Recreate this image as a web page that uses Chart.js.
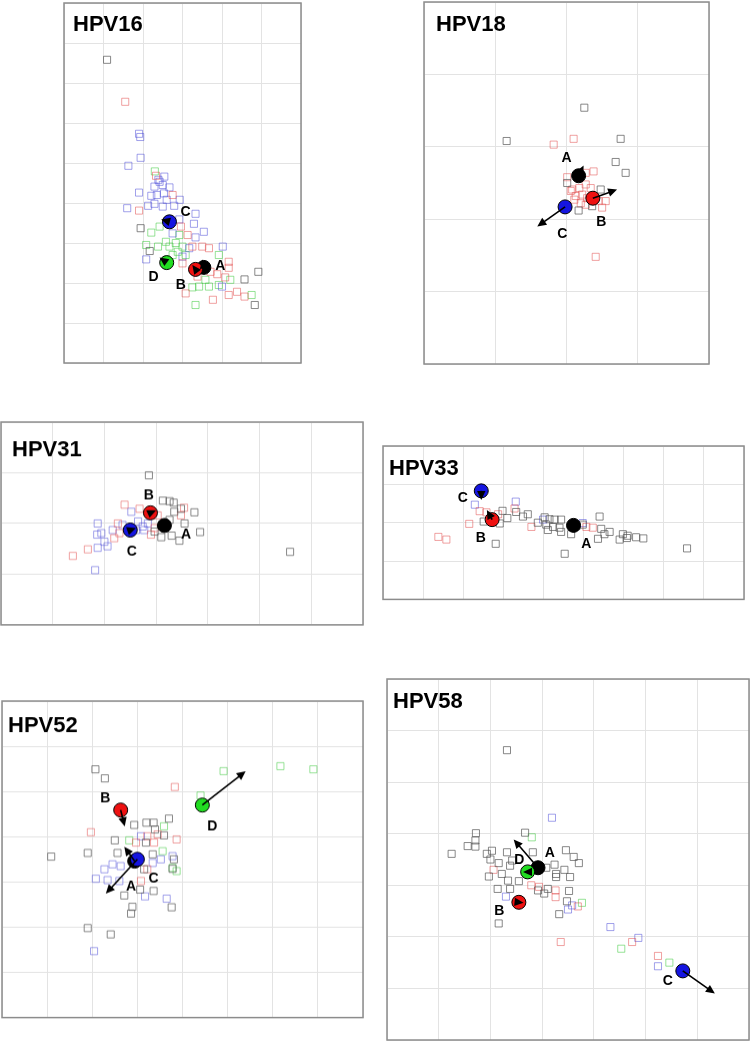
<!DOCTYPE html>
<html>
<head>
<meta charset="utf-8">
<script src="https://cdn.jsdelivr.net/npm/chart.js@4.4.1/dist/chart.umd.min.js"></script>
<style>
  body { margin: 0; background: #fff; width: 750px; height: 1042px; overflow: hidden; position: relative; }
  canvas { position: absolute; }
</style>
</head>
<body>
<script>
// lineage order: A (grey/black), B (red), C (blue), D (green)
const lineages = ['A', 'B', 'C', 'D'];

// ---- HPV16 ----
const hpv16A = [[1.09,7.58],[1.94,3.37],[2.17,2.8],[4.57,2.09],[4.92,2.28],[4.83,1.45]];
const hpv16B = [[1.55,6.53],[2.33,4.68],[2.75,4.2],[1.9,3.81],[3.13,3.2],[3.25,2.91],[3.5,2.91],[3.67,2.87],[3.0,2.49],[4.17,2.53],[4.17,2.38],[3.88,2.22],[4.08,2.14],[3.08,1.74],[3.77,1.58],[4.17,1.7],[4.38,1.78],[4.57,1.66],[3.71,2.28],[3.38,2.16],[2.96,3.41]];
const hpv16C = [[1.9,5.73],[1.93,5.65],[1.94,5.13],[1.63,4.93],[2.54,4.66],[2.39,4.58],[2.42,4.53],[2.29,4.41],[2.5,4.45],[2.67,4.39],[1.9,4.26],[2.21,4.18],[2.35,4.2],[2.53,4.24],[2.6,4.08],[2.93,4.08],[2.13,3.93],[2.29,3.98],[2.5,3.91],[2.79,3.93],[1.6,3.87],[3.33,3.73],[3.29,3.48],[2.92,3.59],[3.54,3.28],[2.75,3.24],[3.33,3.14],[2.08,2.59],[3.17,2.87],[4.02,2.91],[4.0,1.91],[3.0,2.66]];
const hpv16D = [[2.3,4.79],[2.42,3.41],[2.21,3.26],[2.92,3.2],[2.08,2.95],[2.38,2.91],[2.83,3.0],[3.0,2.91],[2.88,2.78],[3.08,2.7],[3.92,2.7],[2.75,2.7],[4.21,2.08],[3.92,1.95],[3.67,1.91],[3.42,1.91],[3.25,1.89],[3.33,1.45],[4.75,1.7],[3.58,2.08],[2.58,3.03],[2.67,2.91]];
const hpv16Centres = [[3.54,2.39],[3.33,2.34],[2.67,3.53],[2.6,2.51]];
const hpv16Arrows = [[3.5,2.59],[3.25,2.45],[2.46,3.59],[2.42,2.64]];
const hpv16Labels = [[3.96,2.43],[2.96,1.95],[3.08,3.78],[2.27,2.14]];

// ---- HPV18 ----
const hpv18A = [[2.25,3.54],[1.16,3.08],[2.76,3.11],[2.69,2.79],[2.83,2.64],[2.01,2.5],[2.48,2.41],[2.17,2.12],[2.36,2.18]];
const hpv18B = [[1.82,3.03],[2.1,3.11],[2.38,2.66],[2.27,2.64],[2.01,2.58],[2.08,2.41],[2.18,2.43],[2.27,2.48],[2.34,2.43],[2.13,2.32],[2.22,2.34],[2.29,2.29],[2.11,2.27],[2.2,2.22],[2.27,2.2],[2.5,2.16],[2.55,2.25],[2.45,2.25],[2.41,1.48],[2.06,2.39]];
const hpv18C = [];
const hpv18Centres = [[2.17,2.6],[2.37,2.29],[1.98,2.17]];
const hpv18Arrows = [[2.24,2.74],[2.71,2.41],[1.59,1.9]];
const hpv18Labels = [[2.0,2.85],[2.49,1.96],[1.94,1.79]];

// ---- HPV31 ----
const hpv31A = [[2.86,2.95],[3.13,2.45],[3.26,2.44],[3.34,2.41],[3.48,2.29],[3.74,2.22],[3.35,2.23],[3.55,2.0],[3.85,1.83],[3.1,1.73],[3.3,1.76],[3.45,1.66],[5.59,1.44],[3.26,2.07],[2.97,1.84]];
const hpv31B = [[2.39,2.37],[2.68,2.29],[3.54,2.31],[3.48,2.16],[3.03,2.16],[2.26,2.0],[2.19,1.71],[1.68,1.49],[1.39,1.36],[2.97,1.91],[2.9,1.78],[2.29,1.81]];
const hpv31C = [[2.52,2.23],[1.87,2.0],[2.16,1.87],[1.86,1.78],[1.94,1.81],[2.0,1.64],[1.87,1.52],[2.06,1.55],[1.82,1.08],[2.65,2.04],[2.74,1.94],[2.84,2.0],[2.35,1.97],[2.61,1.87],[2.77,1.87]];
const hpv31Centres = [[3.16,1.96],[2.89,2.21],[2.5,1.87]];
const hpv31Arrows = [[3.29,1.97],[3.0,2.26],[2.61,1.91]];
const hpv31Labels = [[3.58,1.78],[2.86,2.55],[2.53,1.45]];

// ---- HPV33 ----
const hpv33A = [[2.98,2.31],[3.1,2.12],[3.32,2.28],[3.49,2.16],[3.61,2.22],[2.51,2.03],[2.91,1.98],[2.81,1.45],[4.03,2.14],[4.15,2.09],[4.28,2.08],[4.44,2.08],[4.07,1.95],[4.24,1.89],[4.4,1.87],[4.11,1.81],[4.44,1.76],[4.69,1.7],[5.4,2.16],[5.44,1.84],[5.65,1.76],[5.52,1.7],[5.36,1.58],[5.98,1.7],[6.1,1.66],[5.9,1.56],[6.08,1.6],[6.31,1.62],[6.49,1.59],[4.53,1.19],[7.58,1.33],[3.86,2.0],[4.82,1.91],[4.98,1.95]];
const hpv33B = [[1.38,1.63],[1.58,1.56],[2.15,1.97],[2.41,2.3],[2.58,2.27],[2.87,2.22],[3.28,2.37],[3.7,1.89],[5.07,1.89],[5.23,1.87]];
const hpv33C = [[2.29,2.47],[3.31,2.55],[3.99,2.08],[4.98,1.99]];
const hpv33Centres = [[4.75,1.93],[2.72,2.08],[2.45,2.83]];
const hpv33Arrows = [null,[2.59,2.33],[2.45,2.59]];
const hpv33Labels = [[5.07,1.43],[2.44,1.6],[1.99,2.64]];

// ---- HPV52 ----
const hpv52A = [[2.07,5.49],[2.28,5.29],[1.09,3.56],[1.9,3.64],[3.7,4.4],[2.93,4.26],[3.2,4.31],[3.36,4.31],[3.59,4.03],[3.39,4.16],[2.5,3.92],[3.15,3.28],[3.36,2.8],[3.06,2.83],[2.71,2.7],[2.89,2.45],[2.86,2.3],[3.76,2.44],[1.9,1.98],[2.41,1.84],[3.34,3.61],[2.56,3.64],[3.19,3.87],[3.78,3.29],[3.81,3.5]];
const hpv52B = [[3.83,5.1],[1.97,4.1],[3.87,3.94],[3.22,4.01],[3.08,3.02],[3.22,3.28],[2.97,3.87],[3.37,3.87],[3.45,4.05]];
const hpv52C = [[2.27,3.28],[2.08,3.07],[2.34,3.04],[2.45,3.39],[2.6,3.02],[3.78,3.57],[3.52,3.5],[3.65,2.63],[3.17,2.68],[2.04,1.47],[3.34,3.42],[3.08,4.01],[2.63,3.35]];
const hpv52D = [[4.91,5.45],[6.17,5.56],[6.9,5.49],[4.4,4.91],[3.59,4.23],[2.82,3.92],[3.56,3.68],[3.78,3.31],[3.87,3.24]];
const hpv52Centres = [[2.94,3.46],[2.63,4.59],[3.0,3.5],[4.44,4.7]];
const hpv52Arrows = [[2.71,3.78],[2.72,4.23],[2.3,2.74],[5.4,5.45]];
const hpv52Labels = [[2.86,2.89],[2.29,4.85],[3.36,3.08],[4.66,4.23]];

// ---- HPV58 ----
const hpv58A = [[2.32,5.62],[1.72,4.01],[1.71,3.87],[1.56,3.76],[1.71,3.75],[1.25,3.61],[1.93,3.61],[2.03,3.67],[2.0,3.5],[2.32,3.64],[2.42,3.48],[2.38,3.38],[2.16,3.43],[1.97,3.17],[2.22,3.22],[2.34,3.09],[2.55,3.08],[2.14,2.93],[2.38,2.93],[2.67,4.02],[2.82,3.64],[3.46,3.68],[3.61,3.55],[3.71,3.43],[3.24,3.4],[3.43,3.3],[3.08,3.34],[3.27,3.16],[3.54,3.16],[2.92,2.9],[3.04,2.84],[3.11,2.93],[3.52,2.89],[3.48,2.69],[3.33,2.44],[2.16,2.26],[3.27,3.22]];
const hpv58B = [[2.06,3.3],[2.79,3.0],[2.94,2.97],[3.26,2.9],[3.26,2.77],[3.69,2.59],[3.36,1.9],[4.74,1.9],[5.24,1.63]];
const hpv58C = [[3.19,4.31],[2.3,2.78],[3.5,2.53],[3.58,2.61],[4.32,2.19],[4.86,1.98],[5.24,1.43]];
const hpv58D = [[2.8,3.93],[3.77,2.66],[4.53,1.77],[5.46,1.5]];
const hpv58Centres = [[2.92,3.34],[2.55,2.67],[5.72,1.34],[2.72,3.26]];
const hpv58Arrows = [[2.45,3.89],[2.64,2.66],[6.34,0.9],[2.63,3.26]];
const hpv58Labels = [[3.15,3.62],[2.17,2.5],[5.43,1.15],[2.56,3.48]];

// layout of the six panels (plot box in page px)
const panels = [
  { title: 'HPV16', box: [64, 3, 241, 360], cols: 6, rows: 9, titleAt: [9, 28],
    squares: [hpv16A, hpv16B, hpv16C, hpv16D], centres: hpv16Centres, arrows: hpv16Arrows, labels: hpv16Labels },
  { title: 'HPV18', box: [424, 2, 288, 362], cols: 4, rows: 5, titleAt: [12, 29],
    squares: [hpv18A, hpv18B, hpv18C], centres: hpv18Centres, arrows: hpv18Arrows, labels: hpv18Labels },
  { title: 'HPV31', box: [1, 422, 362, 207], cols: 7, rows: 4, titleAt: [11, 34],
    squares: [hpv31A, hpv31B, hpv31C], centres: hpv31Centres, arrows: hpv31Arrows, labels: hpv31Labels },
  { title: 'HPV33', box: [383, 446, 361, 160], cols: 9, rows: 4, titleAt: [6, 29],
    squares: [hpv33A, hpv33B, hpv33C], centres: hpv33Centres, arrows: hpv33Arrows, labels: hpv33Labels },
  { title: 'HPV52', box: [2, 701, 361, 317], cols: 8, rows: 7, titleAt: [6, 31],
    squares: [hpv52A, hpv52B, hpv52C, hpv52D], centres: hpv52Centres, arrows: hpv52Arrows, labels: hpv52Labels },
  { title: 'HPV58', box: [387, 679, 362, 361], cols: 7, rows: 7, titleAt: [6, 29],
    squares: [hpv58A, hpv58B, hpv58C, hpv58D], centres: hpv58Centres, arrows: hpv58Arrows, labels: hpv58Labels }
];

const squareColours = ['rgba(85,85,85,0.7)', 'rgba(225,70,70,0.5)', 'rgba(70,70,215,0.5)', 'rgba(50,200,50,0.5)'];
const dotColours = ['#000000', '#ee1111', '#1515e0', '#22dd22'];
const PAD = 2;
const FONT = '"Liberation Sans", Arial, Helvetica, sans-serif';

const toPts = arr => arr.map(p => ({ x: p[0], y: p[1] }));

function drawArrow(ctx, x0, y0, x1, y1) {
  const ang = Math.atan2(y1 - y0, x1 - x0);
  const len = Math.hypot(x1 - x0, y1 - y0);
  const head = 9, half = 4.2;
  const c = Math.cos(ang), s = Math.sin(ang);
  if (len > head) {
    ctx.beginPath();
    ctx.moveTo(x0, y0);
    ctx.lineTo(x1 - c * head * 0.7, y1 - s * head * 0.7);
    ctx.stroke();
  }
  ctx.beginPath();
  ctx.moveTo(x1, y1);
  ctx.lineTo(x1 - head * c + half * s, y1 - head * s - half * c);
  ctx.lineTo(x1 - head * c - half * s, y1 - head * s + half * c);
  ctx.closePath();
  ctx.fill();
}

function panelPlugin(p) {
  return {
    id: 'panelDecor',
    afterDatasetsDraw(chart) {
      const { ctx, scales: { x, y } } = chart;
      ctx.save();
      ctx.strokeStyle = '#000';
      ctx.fillStyle = '#000';
      ctx.lineWidth = 1.6;
      p.centres.forEach((c, i) => {
        const t = p.arrows[i];
        if (!t) return;
        drawArrow(ctx, x.getPixelForValue(c[0]), y.getPixelForValue(c[1]),
                  x.getPixelForValue(t[0]), y.getPixelForValue(t[1]));
      });
      ctx.font = 'bold 14px ' + FONT;
      ctx.textAlign = 'center';
      ctx.textBaseline = 'middle';
      p.labels.forEach((l, i) => {
        ctx.fillText(lineages[i], x.getPixelForValue(l[0]), y.getPixelForValue(l[1]));
      });
      ctx.restore();
    },
    afterDraw(chart) {
      const { ctx, chartArea: a } = chart;
      ctx.save();
      ctx.strokeStyle = '#8c8c8c';
      ctx.lineWidth = 1.5;
      ctx.strokeRect(a.left, a.top, a.right - a.left, a.bottom - a.top);
      ctx.fillStyle = '#000';
      ctx.font = 'bold 22px ' + FONT;
      ctx.textAlign = 'left';
      ctx.textBaseline = 'alphabetic';
      ctx.fillText(p.title, a.left + p.titleAt[0], a.top + p.titleAt[1]);
      ctx.restore();
    }
  };
}

panels.forEach(p => {
  const [l, t, w, h] = p.box;
  const cv = document.createElement('canvas');
  cv.width = w + PAD * 2;
  cv.height = h + PAD * 2;
  cv.style.width = cv.width + 'px';
  cv.style.height = cv.height + 'px';
  document.body.appendChild(cv);

  const datasets = [{
    label: 'centres',
    data: toPts(p.centres),
    order: 0,
    pointStyle: 'circle',
    pointRadius: 7,
    pointBorderWidth: 1,
    pointBorderColor: '#000',
    pointBackgroundColor: p.centres.map((c, i) => dotColours[i])
  }];
  p.squares.forEach((sq, i) => {
    datasets.push({
      label: lineages[i],
      data: toPts(sq),
      order: 1,
      pointStyle: 'rect',
      pointRadius: 5,
      pointBorderWidth: 1,
      pointBorderColor: squareColours[i],
      pointBackgroundColor: 'rgba(0,0,0,0)'
    });
  });

  const axis = (max) => ({
    type: 'linear',
    min: 0,
    max: max,
    ticks: { display: false, stepSize: 1 },
    grid: { color: '#e3e3e3', lineWidth: 1, drawTicks: false },
    border: { display: false }
  });

  const chart = new Chart(cv, {
    type: 'scatter',
    data: { datasets },
    options: {
      responsive: false,
      animation: false,
      events: [],
      layout: { padding: PAD },
      plugins: { legend: { display: false }, tooltip: { enabled: false } },
      scales: { x: axis(p.cols), y: axis(p.rows) }
    },
    plugins: [panelPlugin(p)]
  });

  // grow the canvas so that the plot area itself lands on the panel box
  const a = chart.chartArea;
  const inL = a.left, inT = a.top;
  const inR = cv.width - a.right, inB = cv.height - a.bottom;
  const cw = Math.round(w + inL + inR), ch = Math.round(h + inT + inB);
  chart.resize(cw, ch);
  const b = chart.chartArea;
  cv.style.left = (l - b.left) + 'px';
  cv.style.top = (t - b.top) + 'px';
});
</script>
</body>
</html>
